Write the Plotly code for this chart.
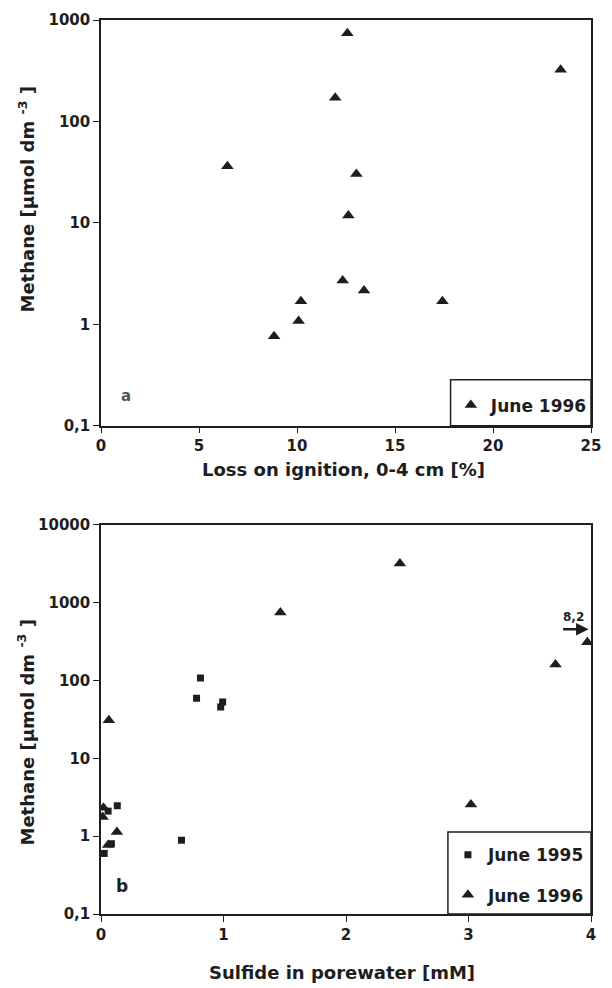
import plotly.graph_objects as go

# ---- Panel a: methane vs loss on ignition (June 1996) ----
loi_1996 = [12.57, 23.45, 11.95, 6.45, 13.03, 12.62, 12.33, 13.42, 10.2, 10.08, 8.83, 17.42]
ch4_a_1996 = [741, 324, 171, 36.1, 30.3, 11.8, 2.70, 2.15, 1.69, 1.08, 0.76, 1.69]

# ---- Panel b: methane vs sulfide ----
sulf_1995 = [0.812, 0.78, 0.993, 0.977, 0.133, 0.058, 0.085, 0.026, 0.657]
ch4_b_1995 = [108, 59, 53, 45.6, 2.46, 2.10, 0.80, 0.60, 0.887]
sulf_1996 = [2.44, 1.464, 3.97, 3.71, 0.064, 0.02, 0.013, 0.13, 0.058, 3.02]
ch4_b_1996 = [3177, 745, 311, 160, 30.9, 2.32, 1.76, 1.13, 0.77, 2.55]

ya_vals = [0.1, 1, 10, 100, 1000]
ya_text = ["0,1", "1", "10", "100", "1000"]
yb_vals = [0.1, 1, 10, 100, 1000, 10000]
yb_text = ["0,1", "1", "10", "100", "1000", "10000"]
xa_ticks = [0, 5, 10, 15, 20, 25]
xb_ticks = [0, 1, 2, 3, 4]

FONT = "DejaVu Sans"
INK = "#1e1e1e"
tickfont = dict(family=FONT, size=15, color=INK)
titlefont = dict(family=FONT, size=18, color=INK)


def bold(labels):
    return ["<b>%s</b>" % t for t in labels]


fig = go.Figure()

fig.add_trace(go.Scatter(
    x=loi_1996, y=ch4_a_1996, mode="markers", name="<b>June 1996</b>",
    marker=dict(symbol="triangle-up", size=11, color=INK),
    xaxis="x", yaxis="y", legend="legend"))

fig.add_trace(go.Scatter(
    x=sulf_1995, y=ch4_b_1995, mode="markers", name="<b>June 1995</b>",
    marker=dict(symbol="square", size=7, color=INK),
    xaxis="x2", yaxis="y2", legend="legend2", legendgroup="g1"))
fig.add_trace(go.Scatter(
    x=sulf_1996, y=ch4_b_1996, mode="markers", name="<b>June 1996</b>",
    marker=dict(symbol="triangle-up", size=11, color=INK),
    xaxis="x2", yaxis="y2", legend="legend2", legendgroup="g2"))

axis_common = dict(showline=True, linecolor=INK, linewidth=1.5, mirror=True,
                   ticks="outside", ticklen=6, tickwidth=1.2, tickcolor=INK,
                   showgrid=False, zeroline=False, tickfont=tickfont)

fig.update_layout(
    width=612, height=988,
    margin=dict(l=101, r=11, t=15, b=74),
    paper_bgcolor="white", plot_bgcolor="white",
    showlegend=True,
    xaxis=dict(domain=[0, 1], anchor="y", range=[0, 25], tickvals=xa_ticks,
               ticktext=bold([str(v) for v in xa_ticks]), **axis_common),
    yaxis=dict(domain=[0.5462, 1.0], anchor="x", type="log", range=[-1, 3],
               tickvals=ya_vals, ticktext=bold(ya_text), **axis_common),
    xaxis2=dict(domain=[0, 1], anchor="y2", range=[0, 4], tickvals=xb_ticks,
                ticktext=bold([str(v) for v in xb_ticks]), **axis_common),
    yaxis2=dict(domain=[0.0, 0.4353], anchor="x2", type="log", range=[-1, 4],
                tickvals=yb_vals, ticktext=bold(yb_text), **axis_common),
    legend=dict(x=0.714, xanchor="left", y=(914 - 402.7) / 899, yanchor="middle",
                bgcolor="rgba(0,0,0,0)", borderwidth=0,
                font=dict(family=FONT, size=17, color=INK)),
    legend2=dict(x=0.708, xanchor="left", y=(914 - 875) / 899, yanchor="middle",
                 bgcolor="rgba(0,0,0,0)", borderwidth=0, tracegroupgap=15,
                 font=dict(family=FONT, size=17, color=INK)),
)

# legend boxes
fig.add_shape(type="rect", xref="x domain", yref="y domain", x0=0.7134, x1=1, y0=0, y1=0.1135,
              line=dict(color=INK, width=1.5))
fig.add_shape(type="rect", xref="x2 domain", yref="y2 domain", x0=0.708, x1=1, y0=0, y1=0.211,
              line=dict(color=INK, width=1.5))

# axis titles
fig.add_annotation(text="<b>Loss on ignition, 0-4 cm [%]</b>", xref="paper", yref="paper",
                   x=(348 - 101) / 500, y=(914 - 467) / 899, xanchor="center", yanchor="middle",
                   showarrow=False, font=titlefont)
fig.add_annotation(text="<b>Sulfide in porewater [mM]</b>", xref="paper", yref="paper",
                   x=(347 - 101) / 500, y=(914 - 973) / 899, xanchor="center", yanchor="middle",
                   showarrow=False, font=titlefont)
fig.add_annotation(text="<b>Methane [μmol dm <sup>-3</sup> ]</b>", xref="paper", yref="paper",
                   x=(25 - 101) / 500, y=(914 - 196) / 899, xanchor="center", yanchor="middle",
                   textangle=-90, showarrow=False, font=titlefont)
fig.add_annotation(text="<b>Methane [μmol dm <sup>-3</sup> ]</b>", xref="paper", yref="paper",
                   x=(25 - 101) / 500, y=(914 - 732) / 899, xanchor="center", yanchor="middle",
                   textangle=-90, showarrow=False, font=titlefont)

# panel labels
fig.add_annotation(text="<b>a</b>", xref="x", yref="y", x=1.3, y=-0.71, showarrow=False,
                   font=dict(family=FONT, size=15, color="#555"))
fig.add_annotation(text="<b>b</b>", xref="x2", yref="y2", x=0.17, y=-0.645, showarrow=False,
                   font=dict(family=FONT, size=17, color=INK))

# off-scale arrow "8,2"
fig.add_annotation(xref="x2", yref="y2", axref="x2", ayref="y2",
                   x=3.98, y=2.659, ax=3.76, ay=2.659, text="", showarrow=True,
                   arrowhead=2, arrowsize=1, arrowwidth=2.5, arrowcolor=INK)
fig.add_annotation(text="<b>8,2</b>", xref="x2", yref="y2", x=3.86, y=2.81, showarrow=False,
                   font=dict(family=FONT, size=12, color=INK))

fig.write_html("out.html")
